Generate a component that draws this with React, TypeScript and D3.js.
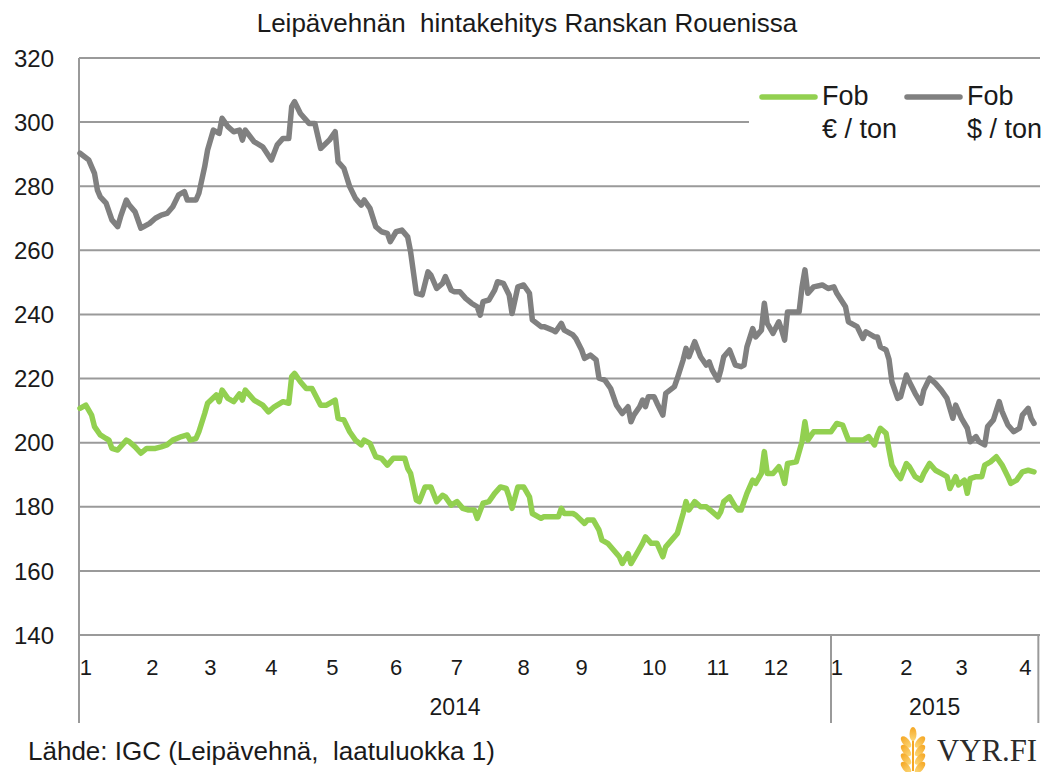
import React from "react";
import * as d3 from "d3";

// Data: [trading-day index, value]
const usdSeries: [number, number][] = [
  [0,290.3],[3,288.2],[5,284],[6,278.8],[7,276.7],[9,274.7],[11,269.5],[13,267.4],[14,270.5],[16,275.7],[17,274.1],[19,272],[21,266.9],[22,267.4],[24,268.4],[26,270],[28,271],[30,271.5],[32,273.6],[34,277.3],[36,278.3],[37,275.7],[40,275.7],[41,277.8],[43,286.1],[44,291.3],[46,297.5],[48,296.5],[49,301.2],[51,298.6],[53,297],[55,297.5],[56,294.4],[57,297.5],[60,293.9],[63,292.3],[66,288.2],[68,292.9],[70,294.9],[72,294.9],[73,304.8],[74,306.4],[76,302.7],[79,299.6],[81,299.6],[83,291.8],[86,294.4],[88,297],[89,287.6],[91,285.6],[93,279.9],[95,276.2],[97,274.1],[98,275.7],[100,273.1],[102,267.4],[104,265.8],[106,265.3],[107,262.7],[109,265.8],[111,266.3],[113,264.2],[114,259.6],[116,246.6],[118,246.1],[120,253.3],[121,252.3],[123,248.1],[125,249.7],[126,251.8],[128,247.6],[129,247.1],[131,247.1],[133,245],[135,243.5],[137,242.4],[138,239.8],[139,244],[141,244.5],[143,247.6],[144,250.2],[146,249.7],[148,246.1],[149,240.3],[151,248.6],[153,249.2],[155,246.6],[156,238.3],[159,236.2],[160,236.2],[163,235.1],[164,234.6],[166,237.2],[167,235.1],[170,233.6],[171,232.5],[173,228.9],[174,226.3],[176,227.3],[178,225.8],[179,220.1],[181,219.5],[183,216.9],[185,211.7],[187,209.1],[189,211.2],[190,206.5],[191,208.6],[193,211.2],[194,213.3],[195,211.2],[196,214.3],[198,214.3],[199,212.3],[201,208.6],[202,215.4],[205,217.5],[206,220.1],[208,225.8],[209,229.4],[210,226.8],[212,231.5],[214,226.8],[216,224.2],[217,225.2],[218,222.7],[220,219.5],[221,222.7],[222,226.8],[224,228.9],[226,224.2],[228,223.7],[229,224.2],[230,229.9],[232,235.6],[233,233],[235,235.1],[236,243.5],[237,237.2],[239,234.1],[241,237.7],[242,235.1],[243,232],[244,240.8],[248,240.8],[249,248.6],[250,253.9],[251,246.6],[253,248.6],[256,249.2],[258,248.1],[260,248.6],[261,246.6],[264,242.4],[265,237.7],[268,236.2],[270,232.5],[271,234.6],[274,233],[275,233],[276,229.9],[278,228.9],[279,226],[280,219],[282,213.8],[283,214.3],[285,221.1],[286,219],[288,215.4],[290,212.3],[291,216.4],[293,220.1],[295,218.5],[297,216.4],[299,213.8],[301,207.6],[302,211.7],[304,207.6],[306,204.5],[307,200.3],[309,201.9],[310,200.3],[312,199.3],[313,205],[315,207.1],[317,212.8],[318,209.7],[320,205.5],[322,203.4],[324,204.5],[325,208.6],[327,210.7],[328,207.6],[329,206],
];

const eurSeries: [number, number][] = [
  [0,210.7],[2,211.7],[4,208.6],[5,205],[7,202.4],[9,201.3],[10,200.8],[11,198.2],[13,197.7],[16,200.8],[17,200.3],[19,198.7],[21,196.7],[23,198.2],[26,198.2],[28,198.7],[30,199.3],[32,200.8],[35,201.9],[37,202.4],[38,200.8],[40,201.3],[41,203.4],[43,209.1],[44,212.3],[47,214.9],[48,212.8],[49,216.4],[51,213.8],[53,212.8],[55,215.2],[56,213.3],[57,216.4],[60,213.3],[63,211.7],[65,209.6],[67,211.2],[70,212.8],[72,212.3],[73,220.6],[74,221.6],[76,219],[78,216.9],[80,216.9],[83,211.7],[85,211.7],[88,213.3],[89,207.6],[91,207.1],[93,203.4],[95,200.8],[97,199.3],[98,200.8],[100,199.8],[102,195.6],[104,195.1],[106,193],[108,195.1],[112,195.1],[113,192],[114,190.4],[116,182.1],[117,181.6],[119,186.2],[121,186.2],[123,181.6],[125,183.6],[126,183.1],[128,180.5],[130,181.6],[132,179.5],[134,179],[136,179],[137,176.4],[139,181.1],[141,181.6],[143,184.2],[145,186.2],[147,185.7],[148,183.1],[149,179.5],[151,186.2],[153,186.2],[155,183.1],[156,177.9],[159,176.4],[160,176.9],[163,176.9],[165,176.9],[166,179.5],[167,177.9],[170,177.9],[171,177.4],[174,174.8],[175,175.9],[177,175.9],[179,172.7],[180,169.6],[182,168.6],[184,166.5],[186,164.4],[187,162.3],[189,165.4],[190,162.3],[192,165.4],[194,168.6],[195,170.6],[197,168.6],[199,168.6],[201,164.4],[202,167.5],[204,169.6],[206,171.7],[208,177.9],[209,181.6],[210,179],[212,181.6],[214,180],[216,180],[218,178.5],[220,176.9],[221,178.5],[222,181.6],[224,183.1],[226,180],[227,179],[228,179],[230,184.2],[232,188.3],[233,187.3],[235,190.4],[236,197.2],[237,190.4],[239,190.4],[241,192.5],[242,190.4],[243,187.3],[244,193.5],[247,194],[249,200.3],[250,206.5],[251,200.8],[253,203.4],[256,203.4],[259,203.4],[261,206],[263,205.5],[265,200.8],[268,200.8],[270,200.8],[272,201.9],[274,199.3],[275,202.4],[276,204.5],[278,202.9],[279,197.7],[280,193],[282,189.9],[283,188.8],[285,193.5],[286,192.5],[288,189.4],[290,188.3],[291,190.4],[293,193.5],[295,191.4],[297,190.4],[299,189.4],[300,185.7],[302,189.4],[303,186.8],[305,188.3],[306,184.2],[307,188.8],[309,189.4],[311,189.4],[312,193],[314,194],[316,195.6],[318,193],[320,189.4],[321,187.3],[323,188.3],[325,190.9],[327,191.4],[329,190.9],
];

const yTicks = [140, 160, 180, 200, 220, 240, 260, 280, 300, 320];
const monthLabels = ["1","2","3","4","5","6","7","8","9","10","11","12","1","2","3","4"];
const monthLabelDays = [2, 25, 45, 66, 87, 109, 130, 153, 173, 198, 220, 240, 261, 285, 304, 326];
const years = ["2014", "2015"];
const yearBoundaryDays = [-0.3, 259, 330.5];

const title = "Leipävehnän  hintakehitys Ranskan Rouenissa";
const source = "Lähde: IGC (Leipävehnä,  laatuluokka 1)";
const legendItems = [
  { l1: "Fob", l2: "€ / ton", color: "#92D050" },
  { l1: "Fob", l2: "$ / ton", color: "#808080" },
];

export default function App() {
  const W = 1046, H = 772;
  const left = 79, right = 1040, top = 58, bottom = 635;
  const x = d3.scaleLinear().domain([0, 329]).range([80, 1034]);
  const y = d3.scaleLinear().domain([140, 320]).range([bottom, top]);
  const line = d3.line<[number, number]>().x(d => x(d[0])).y(d => y(d[1]));
  const font = "'Liberation Sans', Arial, sans-serif";
  const gridColor = "#9a9a9a";
  const sepX = yearBoundaryDays.map(d => x(d));

  return (
    <svg width={W} height={H} style={{ position: "absolute", left: 0, top: 0, background: "#fff" }} fontFamily={font}>
      <defs>
        <linearGradient id="wheat" x1="0" y1="0" x2="0" y2="1">
          <stop offset="0" stopColor="#f5a623" />
          <stop offset="1" stopColor="#fcd878" />
        </linearGradient>
      </defs>
      <rect x={0} y={0} width={W} height={H} fill="#fff" />
      <text x={527} y={32} textAnchor="middle" fontSize={26} fill="#1a1a1a" style={{ whiteSpace: "pre" }}>{title}</text>

      {yTicks.map(t => (
        <g key={t}>
          <line x1={left} x2={right} y1={y(t)} y2={y(t)} stroke={gridColor} strokeWidth={2} />
          <text x={54} y={y(t)} dy="0.36em" textAnchor="end" fontSize={24} fill="#1a1a1a">{t}</text>
        </g>
      ))}
      <line x1={left} x2={left} y1={top} y2={723} stroke={gridColor} strokeWidth={2} />
      {sepX.slice(1).map((sx, i) => (
        <line key={i} x1={sx} x2={sx} y1={bottom} y2={723} stroke={gridColor} strokeWidth={2} />
      ))}

      {monthLabels.map((m, i) => (
        <text key={i} x={x(monthLabelDays[i])} y={675} textAnchor="middle" fontSize={22} fill="#1a1a1a">{m}</text>
      ))}
      {years.map((yr, i) => (
        <text key={yr} x={(sepX[i] + sepX[i + 1]) / 2} y={715} textAnchor="middle" fontSize={23} fill="#1a1a1a">{yr}</text>
      ))}

      <path d={line(usdSeries) || ""} fill="none" stroke="#808080" strokeWidth={5.5} strokeLinejoin="round" strokeLinecap="round" />
      <path d={line(eurSeries) || ""} fill="none" stroke="#92D050" strokeWidth={5.5} strokeLinejoin="round" strokeLinecap="round" />

      <rect x={749} y={72} width={297} height={78} fill="#fff" />
      {legendItems.map((it, i) => {
        const lx = 762 + i * 145;
        return (
          <g key={i}>
            <line x1={lx} x2={lx + 53} y1={97} y2={97} stroke={it.color} strokeWidth={5.5} strokeLinecap="round" />
            <text x={lx + 60} y={105} fontSize={27} fill="#1a1a1a">{it.l1}</text>
            <text x={lx + 60} y={138} fontSize={27} fill="#1a1a1a">{it.l2}</text>
          </g>
        );
      })}

      <text x={28} y={760} fontSize={26} fill="#1a1a1a" style={{ whiteSpace: "pre" }}>{source}</text>

      <g>
        <line x1={913} x2={913} y1={735} y2={771} stroke="#f5a623" strokeWidth={2} />
        {[0, 1, 2, 3].map(k => (
          <g key={k}>
            <ellipse cx={906} cy={742 + k * 8.5} rx={3.5} ry={7} fill="url(#wheat)" transform={`rotate(-40 906 ${742 + k * 8.5})`} />
            <ellipse cx={920} cy={742 + k * 8.5} rx={3.5} ry={7} fill="url(#wheat)" transform={`rotate(40 920 ${742 + k * 8.5})`} />
          </g>
        ))}
        <ellipse cx={913} cy={734} rx={3.5} ry={7} fill="url(#wheat)" />
        <text x={937} y={761} fontSize={31} fontFamily="'Liberation Serif', 'DejaVu Serif', serif" fill="#2b2b2b" textLength={100} lengthAdjust="spacingAndGlyphs">VYR.FI</text>
      </g>
    </svg>
  );
}
